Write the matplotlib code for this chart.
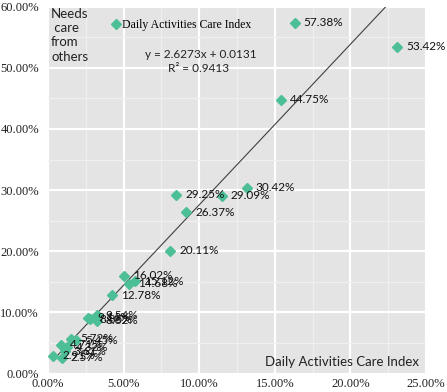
import matplotlib
matplotlib.use("Agg")
import matplotlib.pyplot as plt
import numpy as np
from matplotlib.ticker import MultipleLocator, FuncFormatter

# Data (fractions)
x_vals = [0.1632, 0.2308, 0.1539, 0.1314, 0.0847, 0.1149, 0.0913, 0.0809,
          0.0500, 0.0575, 0.0538, 0.0421, 0.0322, 0.0267, 0.0322, 0.0278,
          0.0155, 0.0185, 0.0085, 0.0125, 0.0110, 0.0035, 0.0090]
y_vals = [0.5738, 0.5342, 0.4475, 0.3042, 0.2925, 0.2909, 0.2637, 0.2011,
          0.1602, 0.1512, 0.1468, 0.1278, 0.0954, 0.0916, 0.0862, 0.0885,
          0.0572, 0.0545, 0.0471, 0.0432, 0.0361, 0.0291, 0.0257]
slope = 2.6273
intercept = 0.0131
r2 = 0.9413
series_name = "Daily Activities Care Index"
x_title = "Daily Activities Care Index"
y_title = "Needs\n care\nfrom\nothers"

W, H = 447, 392
AXW, AXH = 378, 366.8
fig = plt.figure(figsize=(W / 100, H / 100), dpi=100)
ax = fig.add_axes([48 / W, 1 - 373.5 / H, AXW / W, AXH / H])

def ax_xy(px, py):
    """convert figure pixel (from top-left) to axes fraction"""
    return (px - 48) / AXW, (373.5 - py) / AXH

ax.set_facecolor("#e4e4e4")
for s in ax.spines.values():
    s.set_visible(False)

ax.set_xlim(0, 0.25)
ax.set_ylim(0, 0.60)
ax.xaxis.set_major_locator(MultipleLocator(0.05))
ax.xaxis.set_minor_locator(MultipleLocator(0.025))
ax.yaxis.set_major_locator(MultipleLocator(0.10))
ax.yaxis.set_minor_locator(MultipleLocator(0.05))
fmt = FuncFormatter(lambda v, p: f"{v*100:.2f}%")
ax.xaxis.set_major_formatter(fmt)
ax.yaxis.set_major_formatter(fmt)
ax.grid(which="major", color="white", lw=1.6)
ax.grid(which="minor", color="#efefef", lw=0.9)
ax.set_axisbelow(True)
ax.tick_params(which="both", length=0)
ax.tick_params(axis="x", pad=3.5)
ax.tick_params(axis="y", pad=6.5)
for lab in ax.get_xticklabels() + ax.get_yticklabels():
    lab.set_fontfamily("Liberation Serif")
    lab.set_fontsize(9)
    lab.set_color("#222222")

color = "#4dbf96"
ax.plot(x_vals, y_vals, linestyle="none", marker="D", markersize=4.6,
        color=color, label=series_name, zorder=3)

xs = np.array([min(x_vals), max(x_vals)])
ax.plot(xs, slope * xs + intercept, color="#404040", lw=0.8, zorder=2)

for xv, yv in zip(x_vals, y_vals):
    ax.annotate(f"{yv*100:.2f}%", (xv, yv), xytext=(6.5, 0),
                textcoords="offset points", va="center", ha="left",
                fontsize=8.5, family="Lato", color="#111111", zorder=4)

ex, ey = ax_xy(145, 55)
ax.text(ex, ey, f"y = {slope}x + {intercept}", transform=ax.transAxes,
        va="center", ha="left", fontsize=8.5, family="Lato", color="#222222")
rx, ry = ax_xy(168, 68.5)
ax.text(rx, ry, f"R² = {r2}", transform=ax.transAxes,
        va="center", ha="left", fontsize=8.5, family="Lato", color="#222222")

tx, ty = ax_xy(51, 8)
ax.text(tx, ty, y_title, transform=ax.transAxes, va="top",
        ha="left", fontsize=9.5, family="Lato", color="#222222",
        linespacing=1.22)
bx, by = ax_xy(419, 362)
ax.text(bx, by, x_title, transform=ax.transAxes, va="center",
        ha="right", fontsize=9.5, family="Lato", color="#222222")

lx, ly = ax_xy(112, 19)
leg = ax.legend(loc="upper left", bbox_to_anchor=(lx, ly),
                frameon=False, handlelength=0.6, handletextpad=0.25,
                borderaxespad=0, borderpad=0,
                prop={"family": "Liberation Serif", "size": 8.5})

fig.savefig("out.png", dpi=100)
